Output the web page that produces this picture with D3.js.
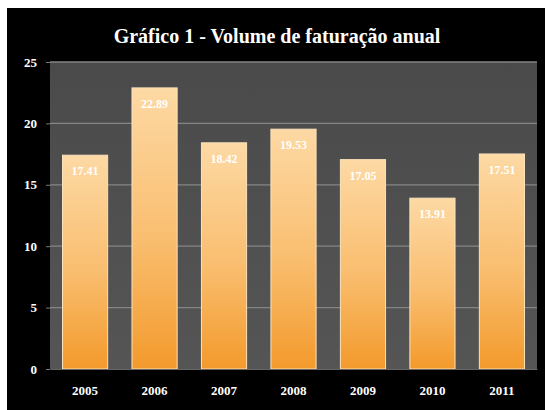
<!DOCTYPE html>
<html><head><meta charset="utf-8">
<script src="https://cdn.jsdelivr.net/npm/d3@7"></script>
<style>body{margin:0;background:#fff;}svg{display:block;}</style>
</head><body>
<script>
const categories = ["2005","2006","2007","2008","2009","2010","2011"];
const values = [17.41, 22.89, 18.42, 19.53, 17.05, 13.91, 17.51];
const valueLabels = ["17.41","22.89","18.42","19.53","17.05","13.91","17.51"];
const yTicks = [0,5,10,15,20,25];
const title = "Gráfico 1 - Volume de faturação anual";

const W=545,H=410;
const svg=d3.select("body").append("svg").attr("width",W).attr("height",H);
const defs=svg.append("defs");
const g1=defs.append("linearGradient").attr("id","bar").attr("x1",0).attr("y1",0).attr("x2",0).attr("y2",1);
g1.append("stop").attr("offset","0%").attr("stop-color","#fdd9a4");
g1.append("stop").attr("offset","55%").attr("stop-color","#f9bd6e");
g1.append("stop").attr("offset","100%").attr("stop-color","#f39a2c");
const g2=defs.append("linearGradient").attr("id","plot").attr("x1",0).attr("y1",0).attr("x2",0).attr("y2",1);
g2.append("stop").attr("offset","0%").attr("stop-color","#4a4a4a");
g2.append("stop").attr("offset","100%").attr("stop-color","#555555");

svg.append("rect").attr("x",7).attr("y",8).attr("width",W-7).attr("height",H-8).attr("fill","#000");

const m={l:50,r:8,t:62,b:41};
const x=d3.scaleBand().domain(categories).range([m.l,W-m.r]).paddingInner(0.35).paddingOuter(0.18);
const y=d3.scaleLinear().domain([0,25]).range([H-m.b,m.t]);

svg.append("rect").attr("x",m.l).attr("y",m.t).attr("width",W-m.r-m.l).attr("height",H-m.b-m.t).attr("fill","url(#plot)");

const font="'Liberation Serif','Times New Roman',serif";
svg.append("g").selectAll("line").data(yTicks.slice(1)).join("line")
  .attr("x1",m.l).attr("x2",W-m.r).attr("y1",d=>y(d)).attr("y2",d=>y(d))
  .attr("stroke","#858585").attr("stroke-width",1.3);

svg.append("g").selectAll("rect").data(values).join("rect")
  .attr("x",(d,i)=>x(categories[i])).attr("width",x.bandwidth())
  .attr("y",d=>y(d)).attr("height",d=>y(0)-y(d))
  .attr("fill","url(#bar)").attr("stroke","#fbe2bb").attr("stroke-width",1);

svg.append("g").selectAll("text").data(values).join("text")
  .attr("x",(d,i)=>x(categories[i])+x.bandwidth()/2).attr("y",d=>y(d)+20)
  .attr("text-anchor","middle").attr("fill","#fff").attr("font-family",font)
  .attr("font-weight","bold").attr("font-size",12).text((d,i)=>valueLabels[i]);

const ya=svg.append("g").attr("transform",`translate(${m.l},0)`)
  .call(d3.axisLeft(y).tickValues(yTicks).tickSize(4).tickPadding(9));
ya.select(".domain").remove();
ya.selectAll("line").attr("stroke","#777");
ya.selectAll("text").attr("fill","#fff").attr("font-family",font).attr("font-weight","bold").attr("font-size",13);

const xa=svg.append("g").attr("transform",`translate(0,${y(0)})`)
  .call(d3.axisBottom(x).tickSize(0).tickPadding(17));
xa.select(".domain").attr("stroke","#666");
xa.selectAll("text").attr("fill","#fff").attr("font-family",font).attr("font-weight","bold").attr("font-size",13);

svg.append("text").attr("x",277).attr("y",43).attr("text-anchor","middle").attr("fill","#fff")
  .attr("font-family",font).attr("font-weight","bold").attr("font-size",20).text(title);
</script>
</body></html>
